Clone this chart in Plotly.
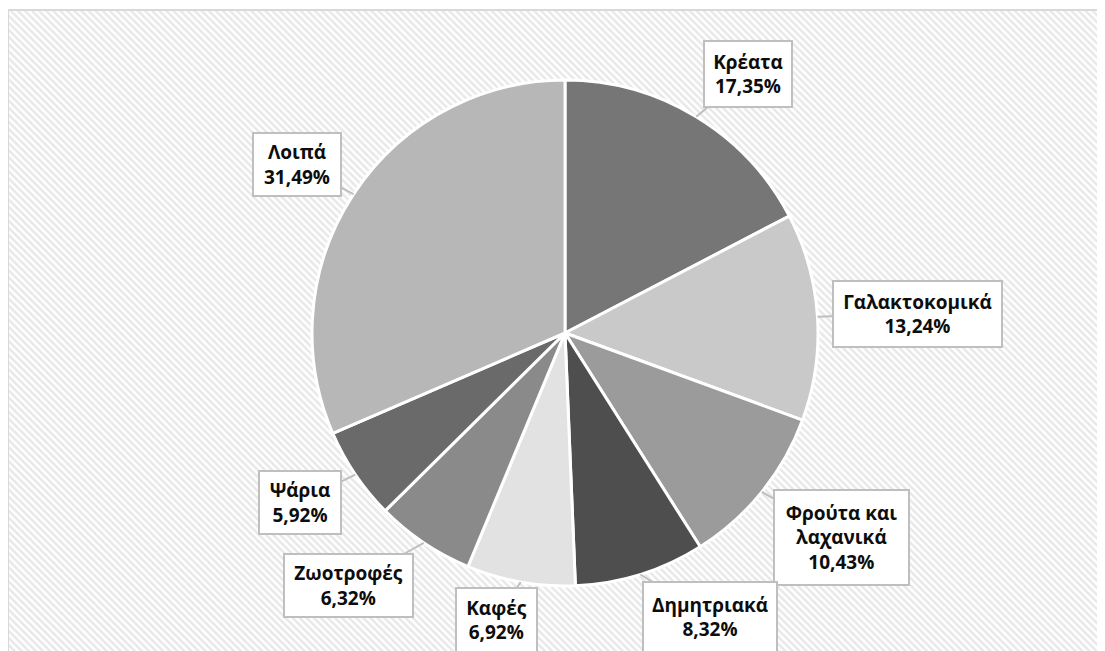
import math
import plotly.graph_objects as go

# data
categories = ["Κρέατα", "Γαλακτοκομικά", "Φρούτα και λαχανικά", "Δημητριακά",
              "Καφές", "Ζωοτροφές", "Ψάρια", "Λοιπά"]
shares = [17.35, 13.24, 10.43, 8.32, 6.92, 6.32, 5.92, 31.49]
label_text = ["Κρέατα", "Γαλακτοκομικά", "Φρούτα και<br>λαχανικά", "Δημητριακά",
              "Καφές", "Ζωοτροφές", "Ψάρια", "Λοιπά"]
slice_colors = ["#767676", "#c9c9c9", "#9b9b9b", "#4e4e4e",
                "#e2e2e2", "#8a8a8a", "#6a6a6a", "#b7b7b7"]

# layout (pixels in the screenshot); the page body adds an 8px margin
OFF = 8
W, H = 1105, 651
CX, CY, R = 565 - OFF, 333 - OFF, 253
# callout box centre and size
box_pos = [(748, 74), (917, 314), (841, 537), (710, 617),
           (496, 620), (348, 585), (300, 502), (297, 165)]
box_pos = [(x - OFF, y - OFF) for x, y in box_pos]
box_size = [(86, 64), (167, 64), (133, 93), (132, 68),
            (79, 62), (127, 61), (80, 61), (86, 61)]

fig = go.Figure()

# hatched chart area
fig.add_trace(go.Scatter(
    x=[0, 1110, 1110, 0, 0], y=[2, 2, 660, 660, 2],
    fill="toself", mode="lines", line=dict(color="#d9d9d9", width=2),
    fillcolor="white",
    fillpattern=dict(shape="\\", fgcolor="#d2d2d2", bgcolor="white",
                     size=5, solidity=0.5),
    hoverinfo="skip", showlegend=False,
))

fig.add_trace(go.Pie(
    labels=categories, values=shares, sort=False, direction="clockwise",
    rotation=0, textinfo="none", showlegend=False,
    marker=dict(colors=slice_colors, line=dict(color="white", width=3)),
    domain=dict(x=[(CX - R) / W, (CX + R) / W],
                y=[1 - (CY + R) / H, 1 - (CY - R) / H]),
))

total = sum(shares)
cum = 0
for name, v, (bx, by), (bw, bh) in zip(label_text, shares, box_pos, box_size):
    ang = math.radians((cum + v / 2) / total * 360)
    cum += v
    tx = CX + R * math.sin(ang)
    ty = CY - R * math.cos(ang)
    fig.add_annotation(
        x=tx / W, y=1 - ty / H, xref="paper", yref="paper",
        ax=bx - tx, ay=by - ty,
        text=f"{name}<br>{v:.2f}%".replace(".", ","),
        showarrow=True, arrowhead=0, arrowwidth=2, arrowcolor="#bfbfbf",
        bgcolor="white", bordercolor="#bfbfbf", borderwidth=2, borderpad=0,
        width=bw, height=bh, align="center", valign="middle",
        font=dict(family="Open Sans", size=19, color="#0d0d0d", weight="bold"),
    )

fig.update_layout(
    width=W, height=H,
    margin=dict(l=0, r=0, t=0, b=0),
    paper_bgcolor="white", plot_bgcolor="white",
    xaxis=dict(range=[0, W], visible=False, fixedrange=True),
    yaxis=dict(range=[H, 0], visible=False, fixedrange=True),
    showlegend=False,
)

fig.write_html("out.html")
